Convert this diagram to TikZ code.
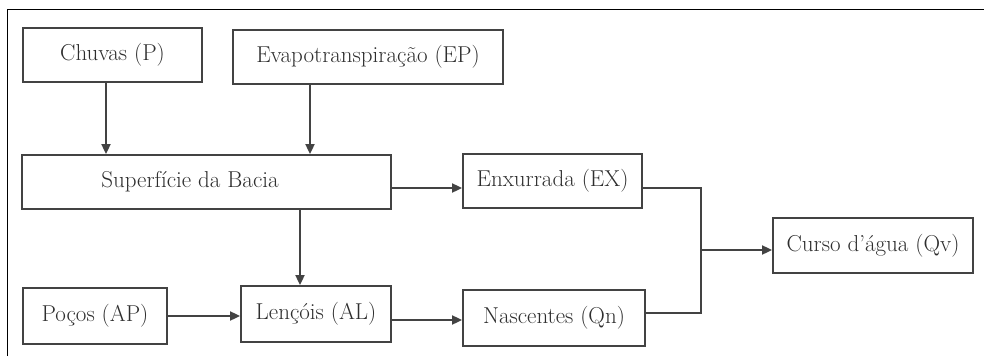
\documentclass[tikz,border=0pt]{standalone}
\usetikzlibrary{arrows.meta}
\definecolor{linegray}{HTML}{434343}
\definecolor{textgray}{HTML}{2E2E2E}
\begin{document}
\begin{tikzpicture}[x=1pt,y=-1pt,
  box/.style={draw=linegray, line width=1.8pt, text=textgray,
    font=\fontsize{23}{27}\selectfont, inner sep=0pt},
  arr/.style={draw=linegray, line width=1.8pt, -{Triangle[length=10pt,width=9pt]}},
  conn/.style={draw=linegray, line width=1.8pt}]
\useasboundingbox (0,0) rectangle (984,356);
\draw[black, line width=1.8pt] (7.5,356) -- (7.5,9.5) -- (984,9.5);

\node[box, minimum width=179pt, minimum height=54pt] (chuvas) at (112.5,55) {Chuvas (P)};
\node[box, minimum width=270pt, minimum height=54pt] (evap) at (368,57) {Evapotranspiração (EP)};
\node[box, minimum width=369pt, minimum height=54pt] (sup) at (206.5,182) {Superfície da Bacia\hspace*{33pt}};
\node[box, minimum width=179pt, minimum height=54pt] (enx) at (552.5,181) {Enxurrada (EX)};
\node[box, minimum width=144pt, minimum height=56pt] (pocos) at (95,316) {Poços (AP)};
\node[box, minimum width=150pt, minimum height=56pt] (lenc) at (316,314) {Lençóis (AL)};
\node[box, minimum width=182pt, minimum height=56pt] (nasc) at (554,318) {Nascentes (Qn)};
\node[box, minimum width=200pt, minimum height=55pt] (curso) at (873,245.5) {Curso d’água (Qv)};

\draw[arr] (chuvas.south -| 106,0) -- (sup.north -| 106,0);
\draw[arr] (evap.south -| 310,0) -- (sup.north -| 310,0);
\draw[arr] (sup.east |- 0,188) -- (enx.west |- 0,188);
\draw[arr] (sup.south -| 300,0) -- (lenc.north -| 300,0);
\draw[arr] (pocos.east |- 0,316) -- (lenc.west |- 0,316);
\draw[arr] (lenc.east |- 0,320) -- (nasc.west |- 0,320);
\coordinate (j) at (701,250);
\draw[conn] (enx.east |- 0,188) -- (j |- 0,188) -- (j |- 0,313) -- (nasc.east |- 0,313);
\draw[arr] (j) -- (curso.west |- j);
\end{tikzpicture}
\end{document}
